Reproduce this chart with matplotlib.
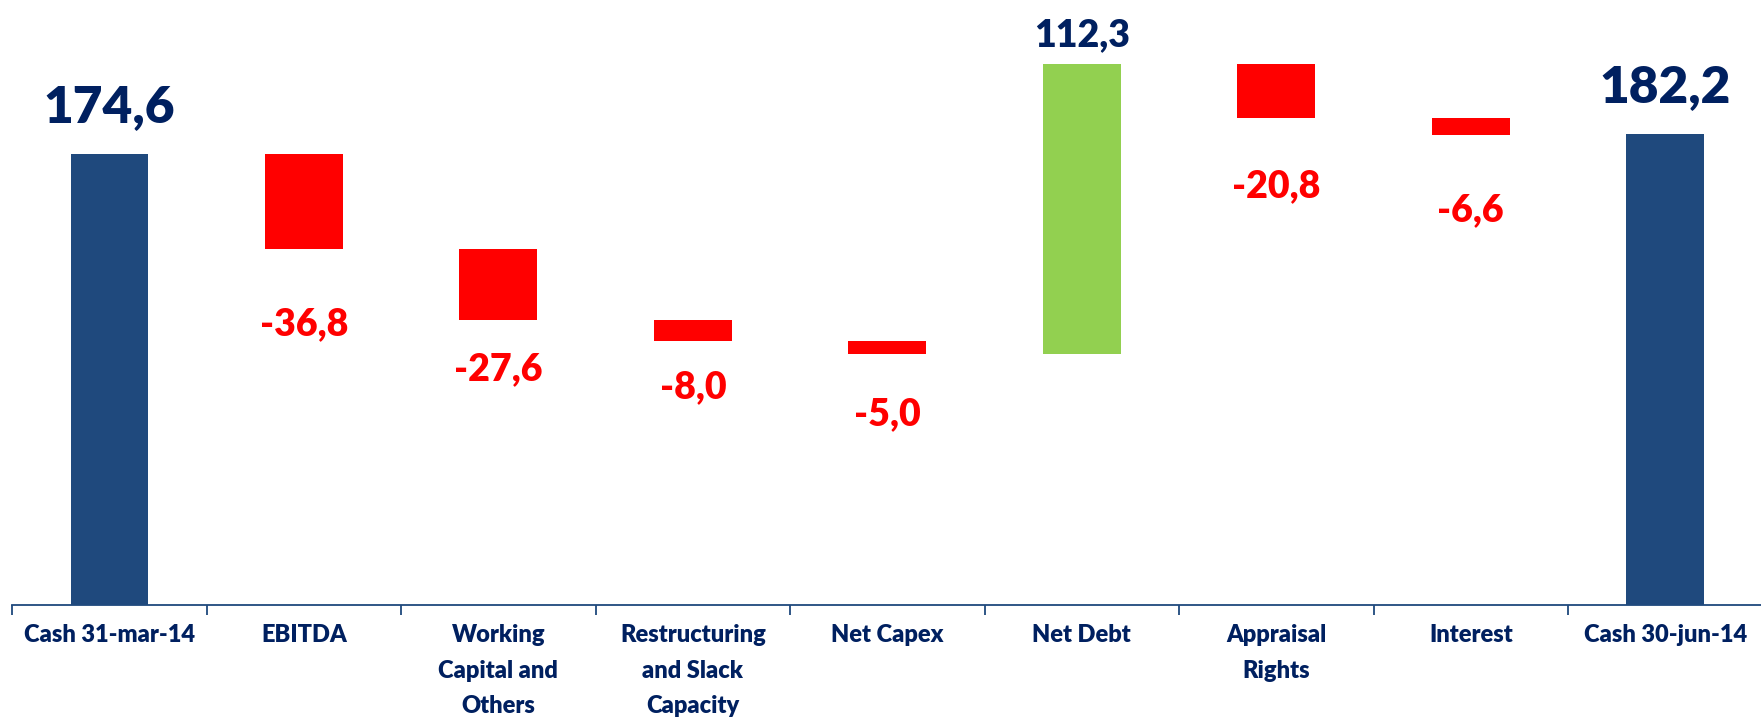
import numpy as np
import matplotlib.pyplot as plt
from matplotlib.ticker import FixedLocator

categories = ['Cash 31-mar-14', 'EBITDA', 'Working\nCapital and\nOthers',
              'Restructuring\nand Slack\nCapacity', 'Net Capex', 'Net Debt',
              'Appraisal\nRights', 'Interest', 'Cash 30-jun-14']
values = [174.6, -36.8, -27.6, -8.0, -5.0, 112.3, -20.8, -6.6, 182.2]
kinds = ['total', 'delta', 'delta', 'delta', 'delta', 'delta', 'delta', 'delta', 'total']

# label gap from bar edge, in points (labels were hand placed in the original)
label_gap = [23, 42, 23, 21, 31, 13, 37, 42, 23]

NAVY_BAR = '#1F497D'
NAVY_TXT = '#002060'
RED = '#FF0000'
GREEN = '#92D050'

plt.rcParams['font.family'] = ['Lato', 'DejaVu Sans']
plt.rcParams['font.weight'] = 'heavy'

fig = plt.figure(figsize=(17.61, 7.21), dpi=100)
ax = fig.add_axes([12.2 / 1761, 116 / 721, 1750.3 / 1761, 605 / 721])

x = np.arange(len(categories))
running = 0.0
bottoms, heights, colors = [], [], []
for v, k in zip(values, kinds):
    if k == 'total':
        bottoms.append(0.0)
        heights.append(v)
        colors.append(NAVY_BAR)
        running = v
    else:
        new = running + v
        bottoms.append(min(running, new))
        heights.append(abs(v))
        colors.append(GREEN if v > 0 else RED)
        running = new

ax.bar(x, heights, bottom=bottoms, width=0.4, color=colors, linewidth=0, zorder=2)

for i, (v, k) in enumerate(zip(values, kinds)):
    txt = f'{v:.1f}'.replace('.', ',')
    top = bottoms[i] + heights[i]
    if v > 0:
        size = 37 if k == 'total' else 27
        ax.annotate(txt, (x[i], top), xytext=(0, label_gap[i]), textcoords='offset points',
                    ha='center', va='baseline', fontsize=size, fontweight='heavy',
                    color=NAVY_TXT, annotation_clip=False)
    else:
        ax.annotate(txt, (x[i], bottoms[i]), xytext=(0, -label_gap[i]), textcoords='offset points',
                    ha='center', va='top', fontsize=27, fontweight='heavy',
                    color=RED, annotation_clip=False)

ax.set_xlim(-0.5, len(categories) - 0.5)
ax.set_ylim(0, 234.2)

for s in ['top', 'right', 'left']:
    ax.spines[s].set_visible(False)
ax.spines['bottom'].set_color(NAVY_BAR)
ax.spines['bottom'].set_linewidth(1.3)
ax.set_yticks([])

ax.xaxis.set_major_locator(FixedLocator(np.arange(-0.5, len(categories) - 0.5, 1.0)))
ax.xaxis.set_major_formatter(plt.NullFormatter())
ax.xaxis.set_minor_locator(FixedLocator(x))
ax.set_xticklabels(categories, minor=True, fontsize=17, fontweight='heavy',
                   color=NAVY_TXT, linespacing=1.75)
ax.tick_params(axis='x', which='major', length=7, width=1.3, color=NAVY_BAR, direction='out')
ax.tick_params(axis='x', which='minor', length=0, pad=14)

fig.savefig('out.png', dpi=100)
